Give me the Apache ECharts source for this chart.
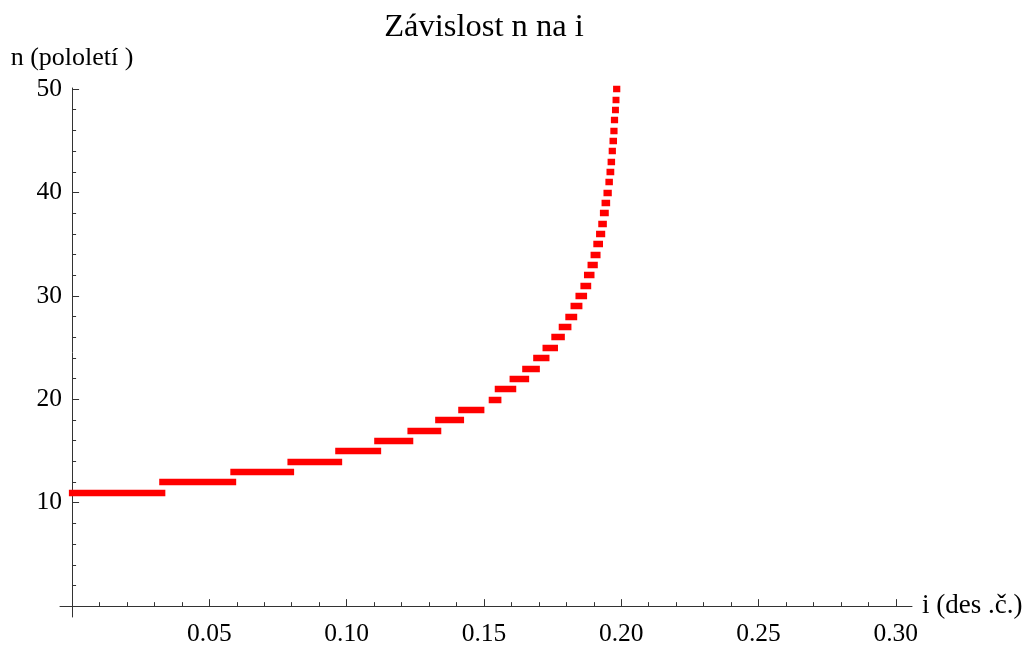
<!DOCTYPE html>
<html>
<head>
<meta charset="utf-8">
<script src="https://cdn.jsdelivr.net/npm/echarts@6/dist/echarts.min.js"></script>
<style>
html,body{margin:0;padding:0;background:#fff;}
#chart{width:1031px;height:645px;}
</style>
</head>
<body>
<div id="chart"></div>
<script>
// Data (step function n(i))
const nValues = [11,12,13,14,15,16,17,18,19,20,21,22,23,24,25,26,27,28,29,30,
                 31,32,33,34,35,36,37,38,39,40,41,42,43,44,45,46,47,48,49,50];
const iStart = [0.0000,0.0329,0.0588,0.0796,0.0970,0.1112,0.1233,0.1334,0.1418,0.1529,
                0.1551,0.1605,0.1651,0.1691,0.1725,0.1757,0.1784,0.1808,0.1827,0.1845,
                0.1863,0.1876,0.1889,0.1900,0.1910,0.1920,0.1928,0.1934,0.1940,0.1947,
                0.1954,0.1958,0.1962,0.1966,0.1969,0.1972,0.1974,0.1978,0.1980,0.1982];
const iEnd   = [0.0328,0.0586,0.0797,0.0972,0.1114,0.1231,0.1333,0.1416,0.1490,0.1552,
                0.1606,0.1653,0.1692,0.1727,0.1758,0.1783,0.1807,0.1828,0.1847,0.1864,
                0.1879,0.1891,0.1903,0.1913,0.1922,0.1930,0.1936,0.1943,0.1948,0.1954,
                0.1958,0.1963,0.1966,0.1969,0.1973,0.1975,0.1977,0.1980,0.1982,0.1985];

const xMajorTicks = [0.05,0.10,0.15,0.20,0.25,0.30];
const xMinorTicks = [0.01,0.02,0.03,0.04,0.06,0.07,0.08,0.09,0.11,0.12,0.13,0.14,
                     0.16,0.17,0.18,0.19,0.21,0.22,0.23,0.24,0.26,0.27,0.28,0.29];
const yMajorTicks = [10,20,30,40,50];
const yMinorTicks = [2,4,6,8,12,14,16,18,22,24,26,28,32,34,36,38,42,44,46,48];

const titleText = 'Závislost n na i';
const xName = 'i (des .č.)';
const yName = 'n (pololetí )';

const FONT = "'Liberation Serif','Times New Roman',serif";
const AXIS_COLOR = '#333';

const segments = nValues.map((n, k) => ({ coords: [[iStart[k], n], [iEnd[k], n]] }));

const X_MIN = -0.0044, X_MAX = 0.3059;
const Y_MIN = -1.05, Y_MAX = 50.1;

const chart = echarts.init(document.getElementById('chart'), null, { renderer: 'canvas' });
chart.setOption({
  animation: false,
  backgroundColor: '#ffffff',
  title: {
    text: titleText,
    left: 479,
    textAlign: 'center',
    top: 6,
    textStyle: { fontFamily: FONT, fontSize: 32.5, fontWeight: 'normal', color: '#000' }
  },
  grid: { left: 60, right: 119, top: 88, bottom: 28, containLabel: false, outerBoundsMode: 'none' },
  xAxis: [
    {
      type: 'value', min: X_MIN, max: X_MAX, position: 'bottom',
      name: xName, nameLocation: 'end', nameGap: 10,
      nameTextStyle: { fontFamily: FONT, fontSize: 27, color: '#000', verticalAlign: 'middle' },
      axisLine: { show: true, onZero: true, onZeroAxisIndex: 0, lineStyle: { color: AXIS_COLOR, width: 1 } },
      axisTick: { show: true, inside: true, length: 7, customValues: xMajorTicks, lineStyle: { color: AXIS_COLOR, width: 1 } },
      axisLabel: { show: true, customValues: xMajorTicks, margin: 4, fontFamily: FONT, fontSize: 25.5, color: '#000',
                   formatter: v => v.toFixed(2) },
      splitLine: { show: false }
    },
    {
      type: 'value', min: X_MIN, max: X_MAX, position: 'bottom',
      axisLine: { show: false, onZero: true, onZeroAxisIndex: 0 },
      axisTick: { show: true, inside: true, length: 4, customValues: xMinorTicks, lineStyle: { color: AXIS_COLOR, width: 1 } },
      axisLabel: { show: false },
      splitLine: { show: false }
    }
  ],
  yAxis: [
    {
      type: 'value', min: Y_MIN, max: Y_MAX, position: 'left',
      name: yName, nameLocation: 'end', nameGap: 17,
      nameTextStyle: { fontFamily: FONT, fontSize: 26, color: '#000' },
      axisLine: { show: true, onZero: true, onZeroAxisIndex: 0, lineStyle: { color: AXIS_COLOR, width: 1 } },
      axisTick: { show: true, inside: true, length: 7, customValues: yMajorTicks, lineStyle: { color: AXIS_COLOR, width: 1 } },
      axisLabel: { show: true, customValues: yMajorTicks, margin: -2, fontFamily: FONT, fontSize: 25.5, color: '#000' },
      splitLine: { show: false }
    },
    {
      type: 'value', min: Y_MIN, max: Y_MAX, position: 'left',
      axisLine: { show: false, onZero: true, onZeroAxisIndex: 0 },
      axisTick: { show: true, inside: true, length: 4, customValues: yMinorTicks, lineStyle: { color: AXIS_COLOR, width: 1 } },
      axisLabel: { show: false },
      splitLine: { show: false }
    }
  ],
  series: [
    {
      type: 'lines',
      coordinateSystem: 'cartesian2d',
      xAxisIndex: 0, yAxisIndex: 0,
      polyline: false,
      silent: true,
      effect: { show: false },
      lineStyle: { color: '#ff0000', width: 6.4, opacity: 1, cap: 'square', curveness: 0 },
      data: segments
    }
  ]
});
</script>
</body>
</html>
